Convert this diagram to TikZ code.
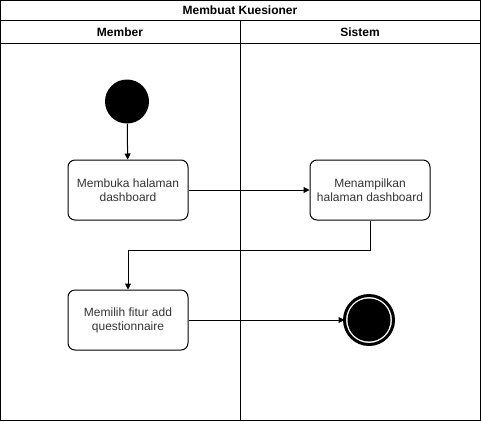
\documentclass[tikz,border=0pt]{standalone}
\usepackage{fontspec}
\setmainfont{Liberation Sans}
\usetikzlibrary{arrows.meta}
\tikzset{
  act/.style={draw,rounded corners=7pt,minimum width=120pt,minimum height=60pt,
    align=center,font=\fontsize{12}{14}\selectfont,text=black!80},
  flow/.style={-{Triangle[length=6pt,width=6pt]}},
}
\begin{document}
\begin{tikzpicture}[x=1pt,y=-1pt,line width=1pt]
  \useasboundingbox (0,0) rectangle (481,421);
  % swimlanes
  \draw (0.5,0.5) rectangle (480.5,420.5);
  \draw (0.5,20) -- (480.5,20) (0.5,43) -- (480.5,43) (240,20) -- (240,420.5);
  \node[font=\bfseries\fontsize{12}{14}\selectfont] (title) at (240,10.5) {Membuat Kuesioner};
  \node[font=\bfseries\fontsize{12}{14}\selectfont] (member) at (120,32) {Member};
  \node[font=\bfseries\fontsize{12}{14}\selectfont] (sistem) at (360,32) {Sistem};
  % actions
  \node[circle,fill=black,minimum size=44pt,inner sep=0pt] (start) at (127,101.5) {};
  \node[act] (buka) at (128,190) {Membuka halaman\\dashboard};
  \node[act] (tampil) at (370,190) {Menampilkan\\halaman dashboard};
  \node[act] (pilih) at (128,320) {Memilih fitur add\\questionnaire};
  \node[circle,draw,line width=3pt,minimum size=49pt,inner sep=0pt,outer sep=0pt] (end) at (369,320) {};
  \fill (end.center) circle (21.5pt);
  % flows
  \draw[flow] (start) -- (buka);
  \draw[flow] (buka) -- (tampil);
  \draw[flow] (tampil.south) |- (128,250) -- (pilih.north);
  \draw[flow] (pilih) -- (end);
\end{tikzpicture}
\end{document}
